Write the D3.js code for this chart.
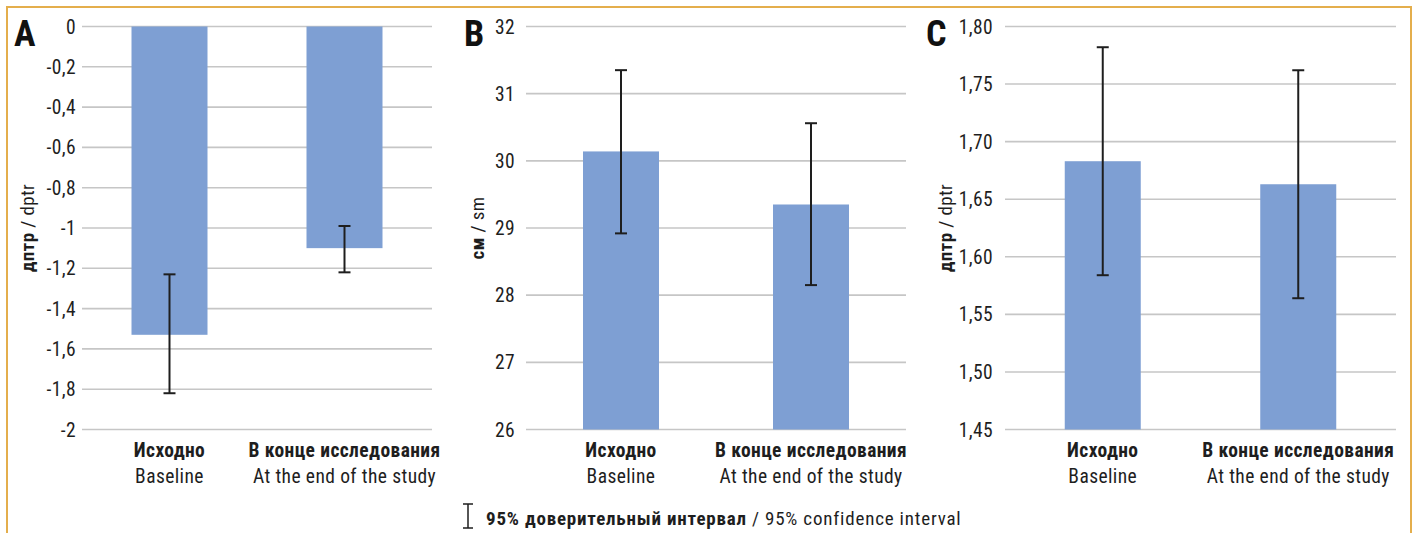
<!DOCTYPE html>
<html><head><meta charset="utf-8">
<script src="https://cdn.jsdelivr.net/npm/d3@7"></script>
<style>
html,body{margin:0;padding:0;background:#fff;}
svg text{font-family:"Liberation Sans Narrow","Roboto Condensed","DejaVu Sans Condensed",sans-serif;}
</style></head>
<body>
<svg id="chart" width="1416" height="533"></svg>
<script>
const categoriesRu = ["Исходно", "В конце исследования"];
const categoriesEn = ["Baseline", "At the end of the study"];

const valuesA = [-1.53, -1.10];
const ciLowA = [-1.82, -1.22];
const ciHighA = [-1.23, -0.99];
const ticksA = [0, -0.2, -0.4, -0.6, -0.8, -1, -1.2, -1.4, -1.6, -1.8, -2];

const valuesB = [30.14, 29.35];
const ciLowB = [28.92, 28.15];
const ciHighB = [31.35, 30.56];
const ticksB = [26, 27, 28, 29, 30, 31, 32];

const valuesC = [1.683, 1.663];
const ciLowC = [1.584, 1.564];
const ciHighC = [1.782, 1.762];
const ticksC = [1.45, 1.50, 1.55, 1.60, 1.65, 1.70, 1.75, 1.80];

const panels = [
  {letter:"A", values:valuesA, lo:ciLowA, hi:ciHighA, ticks:ticksA, domain:[-2,0], base:0,
   x0:82, x1:432, tickX:76, letterX:14, titleX:27, titleBold:"дптр", titleRest:" / dptr",
   fmt:d=>d===0?"0":(d===-1||d===-2)?String(d):String(d).replace(".",",")},
  {letter:"B", values:valuesB, lo:ciLowB, hi:ciHighB, ticks:ticksB, domain:[26,32], base:26,
   x0:526, x1:906, tickX:515, letterX:464, titleX:477, titleBold:"см", titleRest:" / sm",
   fmt:d=>String(d)},
  {letter:"C", values:valuesC, lo:ciLowC, hi:ciHighC, ticks:ticksC, domain:[1.45,1.80], base:1.45,
   x0:1005, x1:1396, tickX:993, letterX:926, titleX:945, titleBold:"дптр", titleRest:" / dptr",
   fmt:d=>d.toFixed(2).replace(".",",")}
];

const svg = d3.select("#chart");
const yTop = 26.5, yBot = 429.5;
const barColor = "#7e9fd3";
const gridColor = "#c6c6c6";
const errColor = "#1e1e1e";
const textColor = "#1e1e1e";

// frame
svg.append("path")
  .attr("d", "M7,533 L7,7 L1411,7 L1411,533")
  .attr("fill","none").attr("stroke","#e4ae4c").attr("stroke-width",2);

panels.forEach(p => {
  const y = d3.scaleLinear().domain(p.domain).range([yBot, yTop]);
  const x = d3.scaleBand().domain(categoriesRu).range([p.x0, p.x1]).padding(0);
  const bw = 76;
  const g = svg.append("g");

  // grid
  g.selectAll("line.grid").data(p.ticks).join("line")
    .attr("x1", p.x0).attr("x2", p.x1)
    .attr("y1", d=>y(d)).attr("y2", d=>y(d))
    .attr("stroke", gridColor).attr("stroke-width", 1.6);

  // tick labels
  g.selectAll("text.tick").data(p.ticks).join("text")
    .attr("x", p.tickX).attr("y", d=>y(d)).attr("dy","0.36em")
    .attr("text-anchor","end").attr("font-size",19.5).attr("letter-spacing","0.4px")
    .attr("fill",textColor)
    .text(p.fmt);

  // bars
  g.selectAll("rect.bar").data(p.values).join("rect")
    .attr("x",(d,i)=>x(categoriesRu[i]) + x.bandwidth()/2 - bw/2)
    .attr("width", bw)
    .attr("y", d=>Math.min(y(d), y(p.base)))
    .attr("height", d=>Math.abs(y(d)-y(p.base)))
    .attr("fill", barColor);

  // error bars
  p.values.forEach((v,i) => {
    const cx = x(categoriesRu[i]) + x.bandwidth()/2;
    const eg = g.append("g").attr("stroke", errColor).attr("stroke-width", 2);
    eg.append("line").attr("x1",cx).attr("x2",cx).attr("y1",y(p.lo[i])).attr("y2",y(p.hi[i]));
    eg.append("line").attr("x1",cx-6).attr("x2",cx+6).attr("y1",y(p.lo[i])).attr("y2",y(p.lo[i]));
    eg.append("line").attr("x1",cx-6).attr("x2",cx+6).attr("y1",y(p.hi[i])).attr("y2",y(p.hi[i]));
  });

  // category labels
  categoriesRu.forEach((c,i) => {
    const cx = x(c) + x.bandwidth()/2;
    g.append("text").attr("x",cx).attr("y",457).attr("text-anchor","middle")
      .attr("font-size",19.5).attr("letter-spacing","0.4px").attr("font-weight","bold")
      .attr("fill",textColor).text(c);
    g.append("text").attr("x",cx).attr("y",483).attr("text-anchor","middle")
      .attr("font-size",19.5).attr("letter-spacing","0.4px").attr("fill",textColor).text(categoriesEn[i]);
  });

  // panel letter
  g.append("text").attr("x",p.letterX).attr("y",46).attr("font-size",36)
    .attr("font-weight","bold").attr("fill","#111").text(p.letter);

  // axis title
  const t = g.append("text").attr("transform",`translate(${p.titleX},${(yTop+yBot)/2}) rotate(-90)`)
    .attr("text-anchor","middle").attr("dy","0.35em").attr("font-size",19)
    .attr("letter-spacing","0.4px").attr("fill",textColor);
  t.append("tspan").attr("font-weight","bold").text(p.titleBold);
  t.append("tspan").text(p.titleRest);
});

// legend
const lg = svg.append("g").attr("stroke", errColor).attr("stroke-width",1.5);
lg.append("line").attr("x1",468).attr("x2",468).attr("y1",504).attr("y2",528);
lg.append("line").attr("x1",463).attr("x2",473).attr("y1",504).attr("y2",504);
lg.append("line").attr("x1",463).attr("x2",473).attr("y1",528).attr("y2",528);
const lt = svg.append("text").attr("x",486).attr("y",525).attr("font-size",19)
  .attr("letter-spacing","0.8px").attr("fill",textColor);
lt.append("tspan").attr("font-weight","bold").text("95% доверительный интервал");
lt.append("tspan").text(" / 95% confidence interval");
</script>
</body></html>
